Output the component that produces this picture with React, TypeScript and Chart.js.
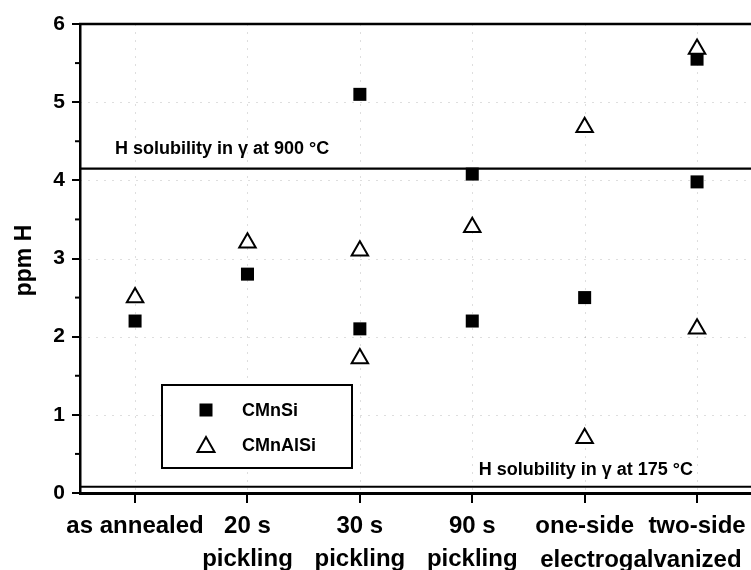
import React, { useEffect, useRef } from "react";
import { Chart, registerables } from "chart.js";

Chart.register(...registerables);

// ---- data ----
const categories: string[][] = [
  ["as annealed"],
  ["20 s", "pickling"],
  ["30 s", "pickling"],
  ["90 s", "pickling"],
  ["one-side"],
  ["two-side"],
];
const sharedSecondLine = "electrogalvanized"; // spans "one-side" and "two-side"
const sharedSecondLineCats = [4, 5];

const cmnsiCategory = [0, 1, 2, 2, 3, 3, 4, 5, 5];
const cmnsiValues = [2.2, 2.8, 2.1, 5.1, 2.2, 4.08, 2.5, 5.55, 3.98];

const cmnalsiCategory = [0, 1, 2, 2, 3, 4, 4, 5, 5];
const cmnalsiValues = [2.5, 3.2, 3.1, 1.72, 3.4, 4.68, 0.7, 5.68, 2.1];

const yTicks = [0, 1, 2, 3, 4, 5, 6];
const yMinorTicks = [0.5, 1.5, 2.5, 3.5, 4.5, 5.5];

const solubilityValues = [4.15, 0.08];
const solubilityLabels = ["H solubility in γ at 900 °C", "H solubility in γ at 175 °C"];

const FONT = "'Liberation Sans', Arial, Helvetica, sans-serif";

const decorPlugin = {
  id: "decor",
  beforeDatasetsDraw(chart: any) {
    const { ctx, chartArea, scales } = chart;
    const { left, right, top, bottom } = chartArea;
    const x = scales.x;
    const y = scales.y;
    ctx.save();
    // faint dotted grid
    ctx.strokeStyle = "rgba(0,0,0,0.13)";
    ctx.lineWidth = 1;
    ctx.setLineDash([2, 6]);
    for (const v of yTicks) {
      if (v <= 0 || v >= 6) continue;
      const py = Math.round(y.getPixelForValue(v)) + 0.5;
      ctx.beginPath();
      ctx.moveTo(left, py);
      ctx.lineTo(right, py);
      ctx.stroke();
    }
    categories.forEach((_, i) => {
      const px = Math.round(x.getPixelForValue(i)) + 0.5;
      ctx.beginPath();
      ctx.moveTo(px, top);
      ctx.lineTo(px, bottom);
      ctx.stroke();
    });
    ctx.setLineDash([]);
    // solubility lines
    ctx.strokeStyle = "#000";
    ctx.lineWidth = 2.2;
    for (const v of solubilityValues) {
      const py = y.getPixelForValue(v);
      ctx.beginPath();
      ctx.moveTo(left, py);
      ctx.lineTo(right, py);
      ctx.stroke();
    }
    // top frame line
    ctx.lineWidth = 2.5;
    ctx.beginPath();
    ctx.moveTo(left - 1, top);
    ctx.lineTo(right, top);
    ctx.stroke();
    // minor y ticks
    ctx.lineWidth = 2;
    for (const v of yMinorTicks) {
      const py = y.getPixelForValue(v);
      ctx.beginPath();
      ctx.moveTo(left - 5, py);
      ctx.lineTo(left, py);
      ctx.stroke();
    }
    ctx.restore();
  },
  afterDraw(chart: any) {
    const { ctx, chartArea, scales } = chart;
    const { left, bottom } = chartArea;
    const x = scales.x;
    const y = scales.y;
    ctx.save();
    ctx.fillStyle = "#000";
    // annotations
    ctx.font = `bold 18px ${FONT}`;
    ctx.textBaseline = "middle";
    ctx.textAlign = "left";
    ctx.fillText(solubilityLabels[0], left + 35, y.getPixelForValue(solubilityValues[0]) - 20);
    ctx.textAlign = "right";
    ctx.fillText(solubilityLabels[1], x.getPixelForValue(5) - 4, y.getPixelForValue(solubilityValues[1]) - 17);

    // shared second line of x label
    ctx.font = `bold 24px ${FONT}`;
    ctx.textAlign = "center";
    const mx = (x.getPixelForValue(sharedSecondLineCats[0]) + x.getPixelForValue(sharedSecondLineCats[1])) / 2;
    ctx.fillText(sharedSecondLine, mx, bottom + 67);

    // y axis title
    ctx.save();
    ctx.translate(25, (chartArea.top + bottom) / 2 + 2);
    ctx.rotate(-Math.PI / 2);
    ctx.font = `bold 23px ${FONT}`;
    ctx.textAlign = "center";
    ctx.textBaseline = "middle";
    ctx.fillText("ppm H", 0, 0);
    ctx.restore();

    // legend box
    const bx = left + 82, by = 385, bw = 190, bh = 83;
    ctx.lineWidth = 2;
    ctx.strokeStyle = "#000";
    ctx.fillStyle = "#fff";
    ctx.fillRect(bx, by, bw, bh);
    ctx.strokeRect(bx, by, bw, bh);
    // square marker
    ctx.fillStyle = "#000";
    ctx.fillRect(bx + 44 - 6.5, by + 25 - 6.5, 13, 13);
    // triangle marker
    const tx = bx + 44, ty = by + 61;
    ctx.beginPath();
    ctx.moveTo(tx, ty - 9);
    ctx.lineTo(tx + 8.5, ty + 6);
    ctx.lineTo(tx - 8.5, ty + 6);
    ctx.closePath();
    ctx.fillStyle = "#fff";
    ctx.fill();
    ctx.stroke();
    ctx.fillStyle = "#000";
    ctx.font = `bold 18px ${FONT}`;
    ctx.textAlign = "left";
    ctx.textBaseline = "middle";
    ctx.fillText("CMnSi", bx + 80, by + 26);
    ctx.fillText("CMnAlSi", bx + 80, by + 61);
    ctx.restore();
  },
};

export default function App() {
  const ref = useRef<HTMLCanvasElement | null>(null);
  useEffect(() => {
    document.body.style.margin = "0";
    const canvas = ref.current!;
    const chart = new Chart(canvas, {
      type: "scatter",
      data: {
        datasets: [
          {
            label: "CMnAlSi",
            data: cmnalsiCategory.map((c, i) => ({ x: c, y: cmnalsiValues[i] })),
            pointStyle: "triangle",
            pointRadius: 9.5,
            pointBorderWidth: 2,
            borderColor: "#000",
            backgroundColor: "#fff",
            order: 0,
          } as any,
          {
            label: "CMnSi",
            data: cmnsiCategory.map((c, i) => ({ x: c, y: cmnsiValues[i] })),
            pointStyle: "rect",
            pointRadius: 9.2,
            pointBorderWidth: 0,
            borderColor: "#000",
            backgroundColor: "#000",
            order: 1,
          } as any,
        ],
      },
      options: {
        responsive: false,
        animation: false,
        layout: { autoPadding: false, padding: { top: 24, left: 0, right: 0, bottom: 0 } },
        plugins: { legend: { display: false }, tooltip: { enabled: false } },
        scales: {
          x: {
            type: "linear",
            min: -0.49,
            max: 5.48,
            afterFit: (s: any) => {
              s.height = 77;
              s.paddingLeft = 0;
              s.paddingRight = 0;
            },
            afterBuildTicks: (s: any) => {
              s.ticks = categories.map((_, i) => ({ value: i }));
            },
            ticks: {
              callback: (v: any) => categories[v] ?? "",
              font: { family: FONT, size: 24, weight: "bold", lineHeight: 1.38 },
              color: "#000",
              padding: 7,
              maxRotation: 0,
              autoSkip: false,
            },
            grid: { display: true, drawOnChartArea: false, drawTicks: true, tickLength: 10, color: "#000", lineWidth: 2 },
            border: { display: true, color: "#000", width: 3 },
          },
          y: {
            min: 0,
            max: 6,
            afterFit: (s: any) => {
              s.width = 80;
              s.paddingTop = 0;
              s.paddingBottom = 0;
            },
            afterBuildTicks: (s: any) => {
              s.ticks = yTicks.map((v) => ({ value: v }));
            },
            ticks: {
              font: { family: FONT, size: 21, weight: "bold" },
              color: "#000",
              padding: 7,
            },
            grid: { display: true, drawOnChartArea: false, drawTicks: true, tickLength: 8, color: "#000", lineWidth: 2 },
            border: { display: true, color: "#000", width: 2.5 },
          },
        },
      } as any,
      plugins: [decorPlugin],
    });
    return () => chart.destroy();
  }, []);
  return (
    <div style={{ position: "absolute", left: 0, top: 0, width: 751, height: 570, background: "#fff" }}>
      <canvas ref={ref} width={751} height={570} style={{ display: "block" }} />
    </div>
  );
}
